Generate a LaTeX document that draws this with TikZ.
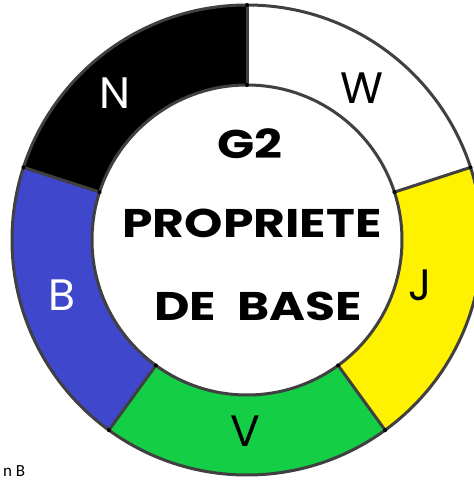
\documentclass[tikz,border=0pt]{standalone}
\usepackage{fontspec}
\setmainfont{Poppins}
\newfontfamily\notefont{Carlito}
\definecolor{ringline}{HTML}{404040}
\definecolor{segblack}{HTML}{000000}
\definecolor{segblue}{HTML}{3F47CC}
\definecolor{seggreen}{HTML}{14CF46}
\definecolor{segyellow}{HTML}{FFF200}
\tikzset{
  ringedge/.style={draw=ringline, line width=3},
  seglabel/.style={font=\fontsize{44}{48}\selectfont, inner sep=0},
  titletext/.style={font=\fontsize{40}{46}\selectfont\bfseries, inner sep=0, xscale=1.22},
}
\begin{document}
\begin{tikzpicture}[x=1pt,y=1pt]
\useasboundingbox (0,0) rectangle (474,480);
\fill[white] (0,0) rectangle (474,480);
\coordinate (c) at (247,240);
\begin{scope}[shift={(c)}]
  % five equal sectors of the ring
  \foreach \a/\col in {18/white, 90/segblack, 162/segblue, 234/seggreen, 306/segyellow}
    \fill[\col] (\a:235) arc[start angle=\a, end angle=\a+72, radius=235]
      -- (\a+72:155) arc[start angle=\a+72, end angle=\a, radius=155] -- cycle;
  % outlines
  \draw[ringedge] (0,0) circle[radius=235];
  \draw[ringedge] (0,0) circle[radius=155];
  \foreach \a in {18,90,162,234,306} {
    \draw[ringedge] (\a:155) -- (\a:235);
    \fill[black] (\a:155) circle[radius=2];
    \fill[black] (\a:235) circle[radius=2];
  }
\end{scope}
% sector letters
\node[seglabel, text=white] (n) at (115,387) {N};
\node[seglabel] (w) at (362,392) {W};
\node[seglabel, text=white] (b) at (62,185) {B};
\node[seglabel] (j) at (420,195) {J};
\node[seglabel] (v) at (245,49) {V};
% title in the middle
\node[titletext] (g2) at (250,336) {G2};
\node[titletext] (prop) at (252,257) {PROPRIETE};
\node[titletext] (base) at (258,174) {DE\ \ BASE};
% caption along the lower edge
\node[anchor=base west, inner sep=0, font=\notefont\fontsize{17}{20}\selectfont] (note) at (3,3) {n B};
\end{tikzpicture}
\end{document}
